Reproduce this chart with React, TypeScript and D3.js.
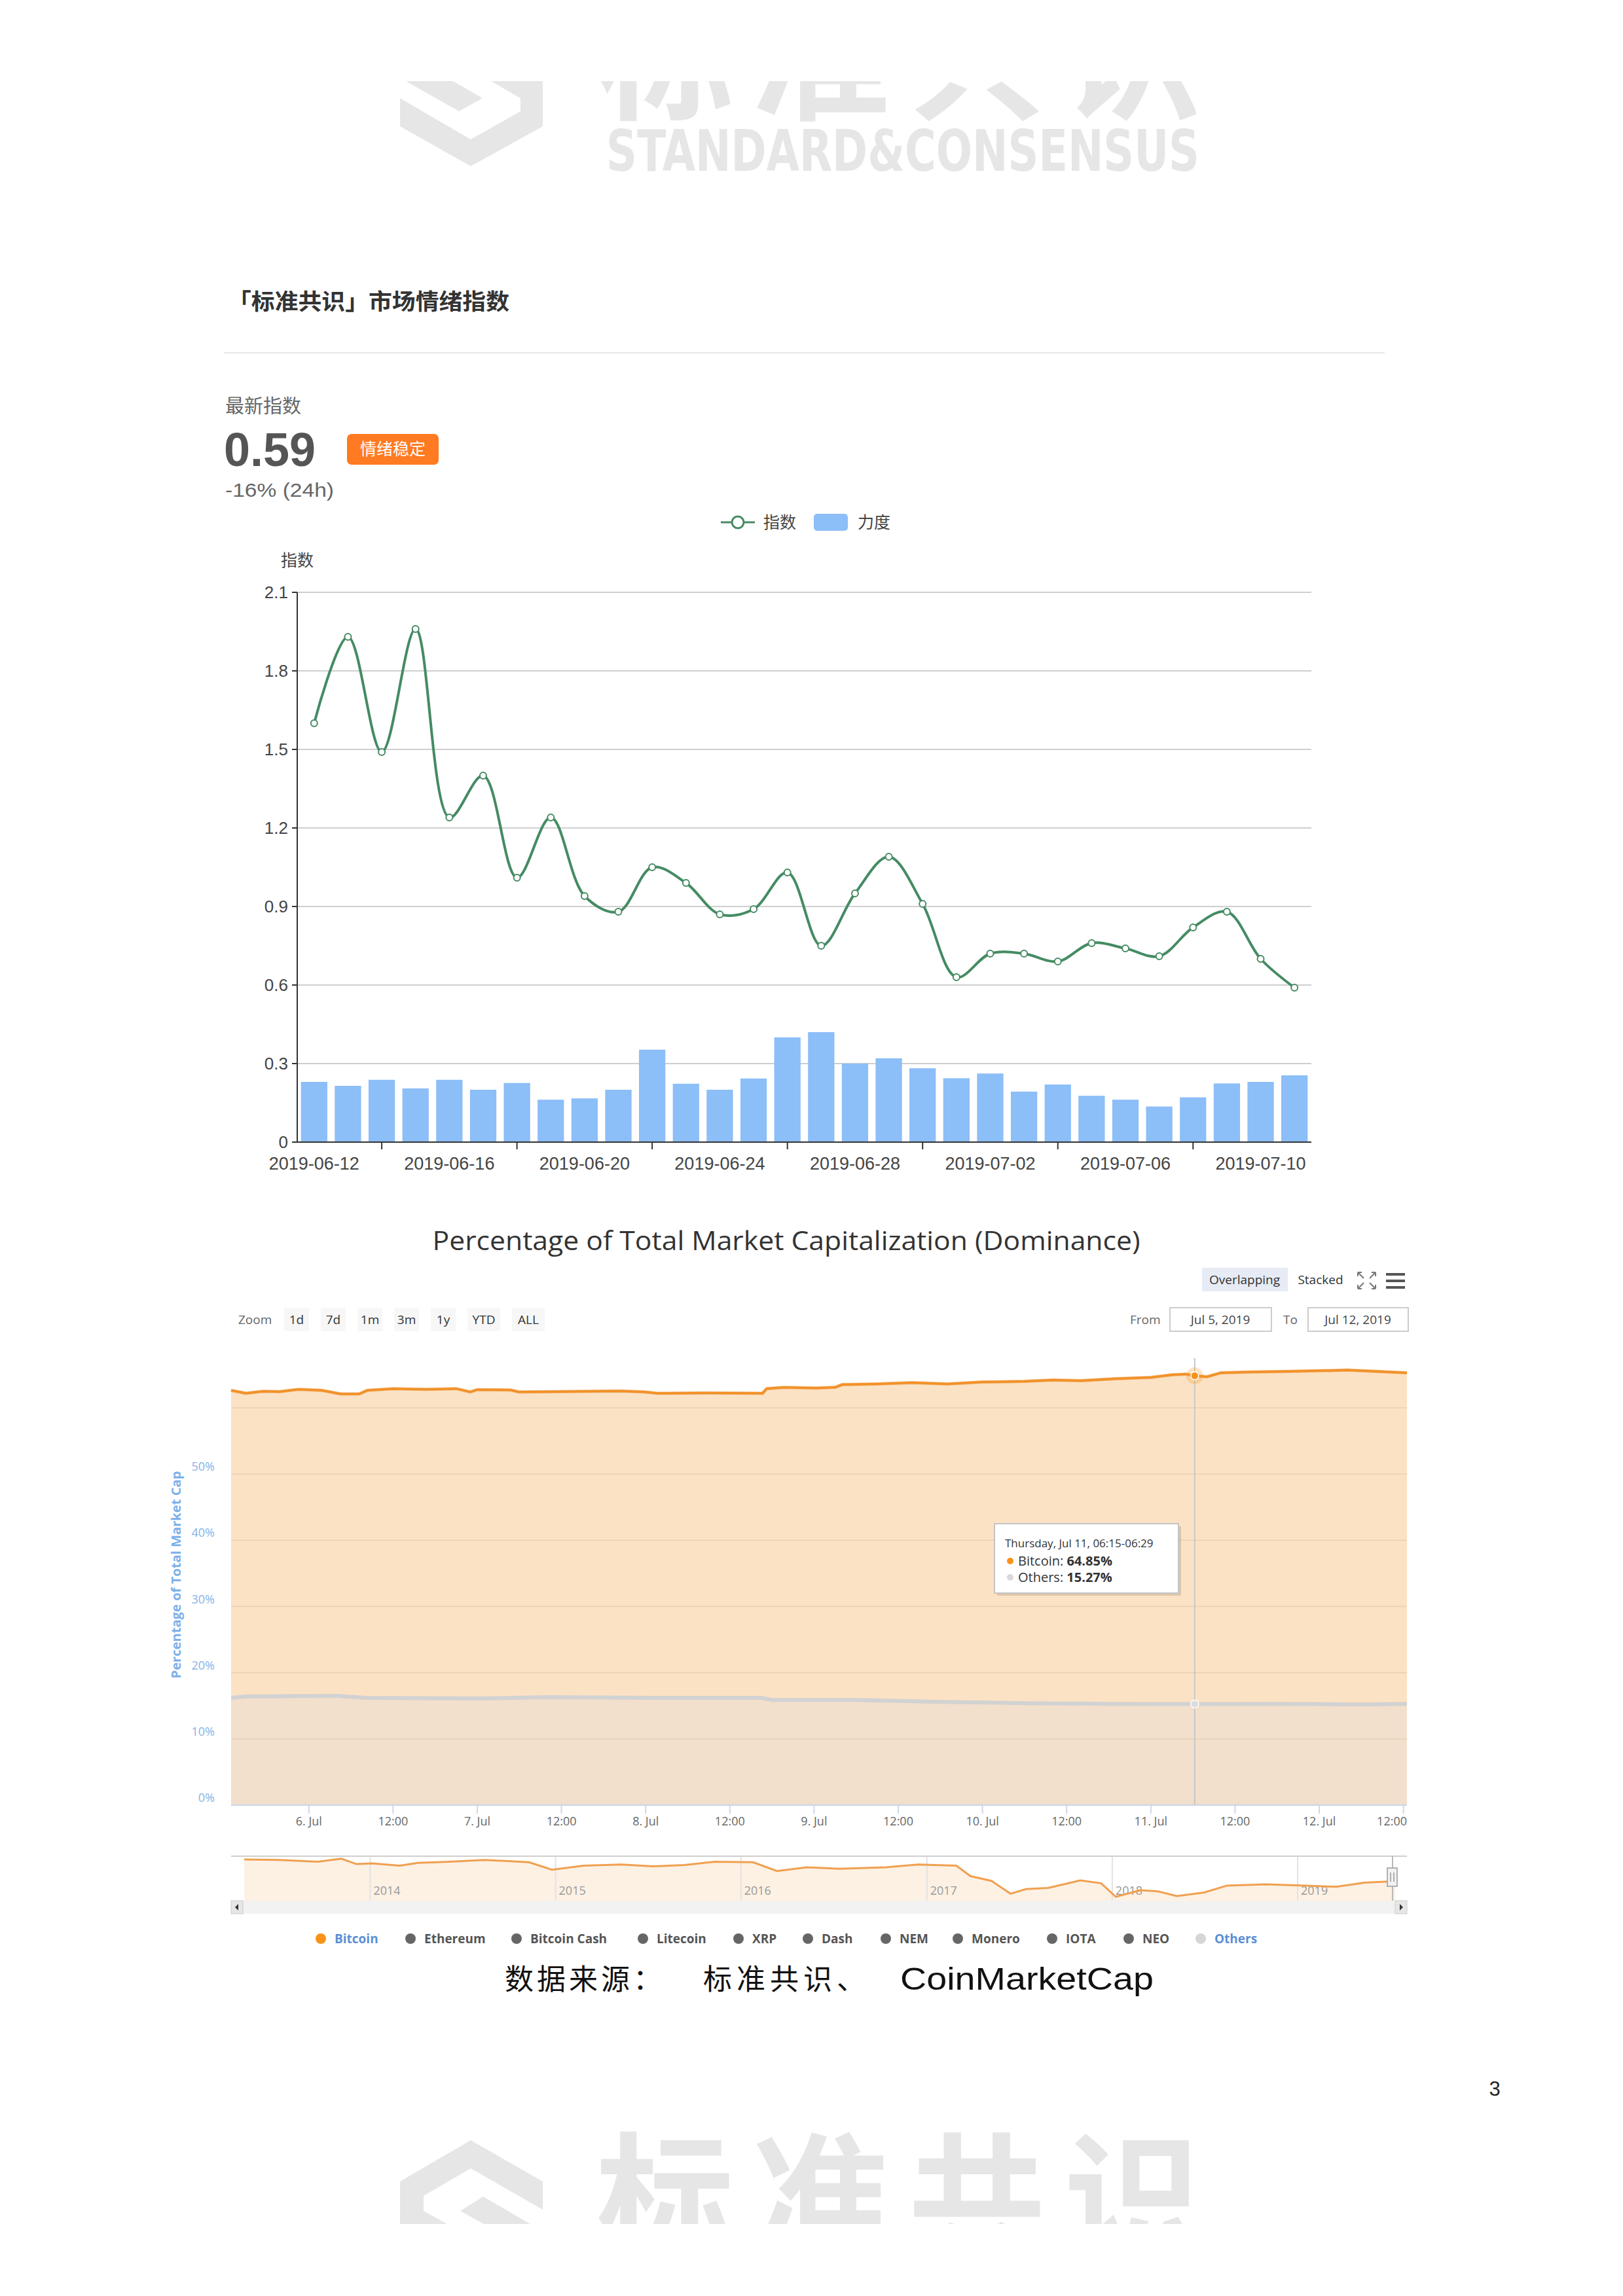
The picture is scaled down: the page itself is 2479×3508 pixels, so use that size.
import React from 'react';
import * as d3 from 'd3';

const W = 2479;
const H = 3508;

// ---------- sentiment index chart ----------
const dates = [
  '2019-06-12', '2019-06-13', '2019-06-14', '2019-06-15', '2019-06-16', '2019-06-17',
  '2019-06-18', '2019-06-19', '2019-06-20', '2019-06-21', '2019-06-22', '2019-06-23',
  '2019-06-24', '2019-06-25', '2019-06-26', '2019-06-27', '2019-06-28', '2019-06-29',
  '2019-06-30', '2019-07-01', '2019-07-02', '2019-07-03', '2019-07-04', '2019-07-05',
  '2019-07-06', '2019-07-07', '2019-07-08', '2019-07-09', '2019-07-10', '2019-07-11',
];
const indexValues = [
  1.6, 1.93, 1.49, 1.96, 1.24, 1.4, 1.01, 1.24, 0.94, 0.88, 1.05, 0.99, 0.87, 0.89, 1.03,
  0.75, 0.95, 1.09, 0.91, 0.63, 0.72, 0.72, 0.69, 0.76, 0.74, 0.71, 0.82, 0.88, 0.7, 0.59,
];
const strengthValues = [
  0.23, 0.215, 0.238, 0.205, 0.238, 0.2, 0.226, 0.162, 0.167, 0.2, 0.353, 0.223, 0.2, 0.243, 0.4,
  0.42, 0.3, 0.32, 0.282, 0.244, 0.262, 0.193, 0.22, 0.177, 0.162, 0.136, 0.171, 0.224, 0.23, 0.255,
];
const indexTicks = [0, 0.3, 0.6, 0.9, 1.2, 1.5, 1.8, 2.1];

// ---------- dominance chart ----------
const btcTimes = [
  '2019-07-05 12:55', '2019-07-05 15:00', '2019-07-05 17:25', '2019-07-05 19:50', '2019-07-05 22:30',
  '2019-07-06 01:50', '2019-07-06 04:30', '2019-07-06 07:10', '2019-07-06 08:20', '2019-07-06 12:00',
  '2019-07-06 16:45', '2019-07-06 21:00', '2019-07-06 23:00', '2019-07-07 00:00', '2019-07-07 04:45',
  '2019-07-07 05:55', '2019-07-07 11:20', '2019-07-07 20:20', '2019-07-07 23:55', '2019-07-08 01:40',
  '2019-07-08 08:20', '2019-07-08 16:40', '2019-07-08 17:15', '2019-07-08 19:40', '2019-07-09 00:20',
  '2019-07-09 03:00', '2019-07-09 04:00', '2019-07-09 09:00', '2019-07-09 14:00', '2019-07-09 19:00',
  '2019-07-10 00:00', '2019-07-10 06:00', '2019-07-10 10:00', '2019-07-10 14:00', '2019-07-10 19:00',
  '2019-07-11 00:00', '2019-07-11 03:00', '2019-07-11 05:00', '2019-07-11 06:15', '2019-07-11 08:00',
  '2019-07-11 10:00', '2019-07-11 14:00', '2019-07-11 20:00', '2019-07-12 00:00', '2019-07-12 04:00',
  '2019-07-12 08:00', '2019-07-12 12:30',
];
const btcValues = [
  62.65, 62.2, 62.5, 62.45, 62.8,
  62.65, 62.1, 62.1, 62.65, 62.9,
  62.8, 62.9, 62.4, 62.75, 62.7,
  62.4, 62.45, 62.55, 62.4, 62.2,
  62.25, 62.2, 62.9, 63.1, 63.0,
  63.1, 63.5, 63.6, 63.8, 63.6,
  63.9, 64.0, 64.2, 64.1, 64.4,
  64.6, 65.0, 65.1, 64.85, 64.7,
  65.3, 65.4, 65.5, 65.6, 65.7,
  65.5, 65.3,
];
const otherTimes = [
  '2019-07-05 12:55', '2019-07-05 15:00', '2019-07-06 04:00', '2019-07-06 08:00', '2019-07-07 00:00',
  '2019-07-07 10:00', '2019-07-08 00:00', '2019-07-08 16:30', '2019-07-08 18:00', '2019-07-09 06:00',
  '2019-07-09 18:00', '2019-07-10 06:00', '2019-07-10 18:00', '2019-07-11 06:15', '2019-07-11 18:00',
  '2019-07-12 06:00', '2019-07-12 12:30',
];
const otherValues = [
  16.2, 16.4, 16.5, 16.2, 16.1,
  16.3, 16.2, 16.2, 15.9, 15.9,
  15.6, 15.4, 15.3, 15.27, 15.3,
  15.2, 15.3,
];
const domTicks = [0, 10, 20, 30, 40, 50, 60];
const domLabels = ['0%', '10%', '20%', '30%', '40%', '50%'];

// navigator: bitcoin dominance history
const navDates = [
  '2013-04-28', '2013-07-05', '2013-09-20', '2013-11-05', '2013-12-05', '2014-01-05', '2014-02-28',
  '2014-04-05', '2014-06-05', '2014-08-15', '2014-11-10', '2014-12-25', '2015-02-25', '2015-05-10',
  '2015-07-12', '2015-09-12', '2015-11-10', '2016-01-25', '2016-03-12', '2016-05-10', '2016-07-12',
  '2016-10-12', '2016-12-15', '2017-02-28', '2017-03-28', '2017-05-08', '2017-06-15', '2017-07-15',
  '2017-08-28', '2017-10-30', '2017-12-10', '2018-01-08', '2018-02-25', '2018-04-01', '2018-05-08',
  '2018-07-01', '2018-08-15', '2018-10-30', '2019-01-15', '2019-03-18', '2019-05-12', '2019-06-28',
  '2019-07-12',
];
const navValues = [
  94.0, 93.2, 90.2, 95.1, 86.4, 87.5, 83.7,
  88.3, 90.2, 93.2, 89.4, 77.2, 83.7, 85.6,
  82.6, 84.9, 90.2, 89.4, 75.0, 81.0, 78.8,
  81.0, 85.6, 83.7, 66.6, 59.0, 38.0, 45.6,
  47.5, 59.7, 55.1, 33.0, 43.7, 41.8, 34.2,
  39.9, 51.3, 53.2, 51.3, 49.4, 55.9, 57.8,
  59.0,
];
const navYears = ['2014', '2015', '2016', '2017', '2018', '2019'];

const zoomButtons = ['1d', '7d', '1m', '3m', '1y', 'YTD', 'ALL'];
const legendNames = ['Bitcoin', 'Ethereum', 'Bitcoin Cash', 'Litecoin', 'XRP', 'Dash', 'NEM', 'Monero', 'IOTA', 'NEO', 'Others'];

// layout only
const legendDotX = [490, 627, 789, 982, 1128, 1234, 1353, 1463, 1607, 1724, 1834];

const CJK = '"Noto Sans CJK SC", sans-serif';
const LAT = '"Liberation Sans", "Noto Sans CJK SC", sans-serif';
const HC = '"Open Sans", "DejaVu Sans", sans-serif';

const GREEN = '#458b63';
const BLUE_BAR = '#8cbef8';

function SentimentChart() {
  const left = 454, right = 2003, top = 905, bottom = 1745;
  const x = d3.scaleBand<string>().domain(dates).range([left, right]).paddingInner(0.22).paddingOuter(0.11);
  const y = d3.scaleLinear().domain([0, 2.1]).range([bottom, top]);
  const cx = (d: string) => (x(d) as number) + x.bandwidth() / 2;
  const pts = dates.map((d, i) => [cx(d), y(indexValues[i])] as [number, number]);
  const line = d3.line().curve(d3.curveCatmullRom.alpha(0.5))(pts) as string;

  return (
    <g>
      {indexTicks.map((t) => (
        <g key={t}>
          {t > 0 && <line x1={left} x2={right} y1={y(t)} y2={y(t)} stroke="#cfcfcf" strokeWidth={2} />}
          <line x1={left - 8} x2={left} y1={y(t)} y2={y(t)} stroke="#333" strokeWidth={2} />
          <text x={left - 14} y={y(t) + 9} textAnchor="end" fontSize={26} fill="#444" fontFamily={LAT}>
            {t === 0 ? '0' : t.toFixed(1)}
          </text>
        </g>
      ))}
      {strengthValues.map((v, i) => (
        <rect key={i} x={x(dates[i])} y={y(v)} width={x.bandwidth()} height={bottom - y(v)} fill={BLUE_BAR} />
      ))}
      <line x1={left} x2={left} y1={top} y2={bottom} stroke="#333" strokeWidth={2} />
      <line x1={left} x2={right} y1={bottom} y2={bottom} stroke="#333" strokeWidth={2} />
      {dates.map((d, i) =>
        i % 4 === 2 ? <line key={d} x1={cx(d)} x2={cx(d)} y1={bottom} y2={bottom + 11} stroke="#333" strokeWidth={2} /> : null,
      )}
      {dates.map((d, i) =>
        i % 4 === 0 ? (
          <text key={d} x={cx(d)} y={bottom + 42} textAnchor="middle" fontSize={27} fill="#444" fontFamily={LAT}>
            {d}
          </text>
        ) : null,
      )}
      <path d={line} fill="none" stroke={GREEN} strokeWidth={4} />
      {pts.map((p, i) => (
        <circle key={i} cx={p[0]} cy={p[1]} r={5} fill="#fff" stroke={GREEN} strokeWidth={2} />
      ))}
      <text x={left} y={865} textAnchor="middle" fontSize={25} fill="#444" fontFamily={CJK}>指数</text>

      {/* legend */}
      <line x1={1101} x2={1153} y1={798} y2={798} stroke={GREEN} strokeWidth={3} />
      <circle cx={1127} cy={798} r={9} fill="#fff" stroke={GREEN} strokeWidth={3} />
      <text x={1166} y={807} fontSize={25} fill="#444" fontFamily={CJK}>指数</text>
      <rect x={1243} y={785} width={52} height={26} rx={5} fill={BLUE_BAR} />
      <text x={1310} y={807} fontSize={25} fill="#444" fontFamily={CJK}>力度</text>
    </g>
  );
}

function DominanceChart() {
  const parse = d3.timeParse('%Y-%m-%d %H:%M');
  const left = 353, right = 2149, plotTop = 2075, base = 2758;
  const x = d3.scaleTime()
    .domain([parse('2019-07-05 12:55') as Date, parse('2019-07-12 12:30') as Date])
    .range([left, right]);
  const y = d3.scaleLinear().domain([0, 60]).range([base, 2151]);

  const btc = btcTimes.map((t, i) => [x(parse(t) as Date), y(btcValues[i])] as [number, number]);
  const oth = otherTimes.map((t, i) => [x(parse(t) as Date), y(otherValues[i])] as [number, number]);
  const area = d3.area<[number, number]>().x((d) => d[0]).y0(base).y1((d) => d[1]);
  const ln = d3.line<[number, number]>();

  const ticks = d3.timeHour.every(12)!.range(parse('2019-07-06 00:00') as Date, parse('2019-07-12 12:01') as Date);
  const hoverT = parse('2019-07-11 06:15') as Date;
  const hx = x(hoverT);

  // navigator
  const pd = d3.timeParse('%Y-%m-%d');
  const nx = d3.scaleTime()
    .domain([pd('2013-04-28') as Date, pd('2019-07-12') as Date])
    .range([373, 2131]);
  const navTop = 2836, navBottom = 2904;
  const ny = d3.scaleLinear().domain([33, 95]).range([2898, 2840]);
  const nav = navDates.map((d, i) => [nx(pd(d) as Date), ny(navValues[i])] as [number, number]);
  const navArea = d3.area<[number, number]>().x((d) => d[0]).y0(navBottom).y1((d) => d[1]);

  let bx = 434;
  const btnPos = zoomButtons.map((b) => {
    const w = 14 + b.length * 12;
    const r = { b, x: bx, w };
    bx += w + 18;
    return r;
  });

  return (
    <g>
      <text x={1201} y={1910} textAnchor="middle" fontSize={40} fill="#333" fontFamily={HC} textLength={1081} lengthAdjust="spacingAndGlyphs">
        Percentage of Total Market Capitalization (Dominance)
      </text>

      {/* top-right buttons */}
      <rect x={1836} y={1937} width={131} height={36} fill="#e6ebf5" />
      <text x={1901} y={1962} textAnchor="middle" fontSize={19} fill="#333" fontFamily={HC}>Overlapping</text>
      <text x={2017} y={1962} textAnchor="middle" fontSize={19} fill="#333" fontFamily={HC}>Stacked</text>
      <g stroke="#777" strokeWidth={2} fill="none">
        <path d="M2074 1944 l9 9 M2074 1944 h6 M2074 1944 v6" />
        <path d="M2101 1944 l-9 9 M2101 1944 h-6 M2101 1944 v6" />
        <path d="M2074 1969 l9 -9 M2074 1969 h6 M2074 1969 v-6" />
        <path d="M2101 1969 l-9 -9 M2101 1969 h-6 M2101 1969 v-6" />
      </g>
      <g stroke="#555" strokeWidth={4}>
        <line x1={2117} x2={2146} y1={1947} y2={1947} />
        <line x1={2117} x2={2146} y1={1957} y2={1957} />
        <line x1={2117} x2={2146} y1={1967} y2={1967} />
      </g>

      {/* range selector */}
      <text x={364} y={2023} fontSize={19} fill="#666" fontFamily={HC}>Zoom</text>
      {btnPos.map((p) => (
        <g key={p.b}>
          <rect x={p.x} y={1998} width={p.w} height={36} fill="#f7f7f7" />
          <text x={p.x + p.w / 2} y={2023} textAnchor="middle" fontSize={19} fill="#333" fontFamily={HC}>{p.b}</text>
        </g>
      ))}
      <text x={1726} y={2023} fontSize={19} fill="#666" fontFamily={HC}>From</text>
      <rect x={1787} y={1998} width={155} height={36} fill="#fff" stroke="#ccc" strokeWidth={2} />
      <text x={1864} y={2023} textAnchor="middle" fontSize={19} fill="#444" fontFamily={HC}>Jul 5, 2019</text>
      <text x={1960} y={2023} fontSize={19} fill="#666" fontFamily={HC}>To</text>
      <rect x={1998} y={1998} width={153} height={36} fill="#fff" stroke="#ccc" strokeWidth={2} />
      <text x={2074} y={2023} textAnchor="middle" fontSize={19} fill="#444" fontFamily={HC}>Jul 12, 2019</text>

      {/* series areas */}
      <path d={area(btc) as string} fill="#fce2c4" />
      <path d={area(oth) as string} fill="#f2dfcc" />
      {domTicks.map((t) => (
        <line key={t} x1={left} x2={right} y1={y(t)} y2={y(t)} stroke="#e8cfb5" strokeWidth={1.5} />
      ))}
      <path d={ln(oth) as string} fill="none" stroke="#d2d2d2" strokeWidth={6} />
      <path d={ln(btc) as string} fill="none" stroke="#e8892a" strokeWidth={5} opacity={0.5} />
      <path d={ln(btc) as string} fill="none" stroke="#f29127" strokeWidth={3.5} />
      <line x1={left} x2={right} y1={base} y2={base} stroke="#ccd6eb" strokeWidth={2} />

      {/* crosshair + markers */}
      <line x1={hx} x2={hx} y1={plotTop} y2={base} stroke="#c8c8c8" strokeWidth={2} />
      <circle cx={hx} cy={y(64.85)} r={13} fill="rgba(247,147,26,0.25)" />
      <circle cx={hx} cy={y(64.85)} r={6} fill="#f7931a" stroke="#fff" strokeWidth={1.5} />
      <circle cx={hx} cy={y(15.27)} r={6} fill="#dcdcdc" stroke="#fff" strokeWidth={1.5} />

      {/* y labels + title */}
      {domLabels.map((l, i) => (
        <text key={l} x={328} y={y(domTicks[i]) - 5} textAnchor="end" fontSize={18} fill="#86b3e8" fontFamily={HC}>{l}</text>
      ))}
      <text transform="translate(276,2406) rotate(-90)" textAnchor="middle" fontSize={19} fontWeight="bold" fill="#7cb0ea" fontFamily={HC} textLength={317} lengthAdjust="spacingAndGlyphs">
        Percentage of Total Market Cap
      </text>

      {/* x axis */}
      {ticks.map((t, i) => {
        const tx = x(t);
        const last = i === ticks.length - 1;
        const label = t.getHours() === 0 ? `${t.getDate()}. Jul` : '12:00';
        return (
          <g key={i}>
            <line x1={tx} x2={tx} y1={base} y2={base + 13} stroke="#ccd6eb" strokeWidth={2} />
            <text x={last ? right : tx} y={2789} textAnchor={last ? 'end' : 'middle'} fontSize={18} fill="#666" fontFamily={HC}>{label}</text>
          </g>
        );
      })}

      {/* tooltip */}
      <rect x={1523} y={2332} width={281} height={106} fill="rgba(0,0,0,0.12)" />
      <rect x={1519} y={2328} width={281} height={106} fill="#fff" stroke="#c4c4c4" strokeWidth={2} />
      <text x={1535} y={2364} fontSize={17} fill="#333" fontFamily={HC}>Thursday, Jul 11, 06:15-06:29</text>
      <circle cx={1543} cy={2385} r={5} fill="#f7931a" />
      <text x={1555} y={2392} fontSize={20} fill="#333" fontFamily={HC}>
        Bitcoin: <tspan fontWeight="bold">64.85%</tspan>
      </text>
      <circle cx={1543} cy={2410} r={5} fill="#d8d8d8" />
      <text x={1555} y={2417} fontSize={20} fill="#333" fontFamily={HC}>
        Others: <tspan fontWeight="bold">15.27%</tspan>
      </text>

      {/* navigator */}
      <path d={navArea(nav) as string} fill="#fdf1e4" />
      {navYears.map((yr) => {
        const gx = nx(pd(`${yr}-01-01`) as Date);
        return (
          <g key={yr}>
            <line x1={gx} x2={gx} y1={navTop} y2={navBottom} stroke="#e3e3e3" strokeWidth={2} />
            <text x={gx + 5} y={2895} fontSize={18} fill="#999" fontFamily={HC}>{yr}</text>
          </g>
        );
      })}
      <path d={ln(nav) as string} fill="none" stroke="#f0a050" strokeWidth={3} />
      <line x1={left} x2={right} y1={navTop} y2={navTop} stroke="#cfcfcf" strokeWidth={2} />
      <line x1={2127} x2={2127} y1={navTop} y2={navBottom} stroke="#b8b8b8" strokeWidth={2} />
      <rect x={2119} y={2854} width={15} height={28} fill="#f2f2f2" stroke="#999" strokeWidth={1.5} />
      <line x1={2124} x2={2124} y1={2861} y2={2875} stroke="#999" strokeWidth={1.5} />
      <line x1={2129} x2={2129} y1={2861} y2={2875} stroke="#999" strokeWidth={1.5} />
      {/* scrollbar */}
      <rect x={left} y={2904} width={right - left} height={20} fill="#f2f2f2" />
      <rect x={left} y={2904} width={18} height={20} fill="#e6e6e6" stroke="#ccc" />
      <rect x={right - 18} y={2904} width={18} height={20} fill="#e6e6e6" stroke="#ccc" />
      <path d={`M${left + 11} 2909 l-5 5 l5 5 z`} fill="#333" />
      <path d={`M${right - 11} 2909 l5 5 l-5 5 z`} fill="#333" />

      {/* legend */}
      {legendNames.map((n, i) => {
        const active = n === 'Bitcoin' || n === 'Others';
        const dot = n === 'Bitcoin' ? '#f7931a' : n === 'Others' ? '#d6d6d6' : '#666';
        return (
          <g key={n}>
            <circle cx={legendDotX[i]} cy={2962} r={8} fill={dot} />
            <text x={legendDotX[i] + 21} y={2969} fontSize={19} fontWeight="bold" fill={active ? '#5b8fd6' : '#555'} fontFamily={HC}>{n}</text>
          </g>
        );
      })}
    </g>
  );
}

function Watermarks() {
  return (
    <g fill="#e6e6e6">
      <defs>
        <clipPath id="clipTop"><rect x={0} y={124} width={W} height={200} /></clipPath>
        <clipPath id="clipBottom"><rect x={0} y={3200} width={W} height={198} /></clipPath>
      </defs>
      <g clipPath="url(#clipTop)">
        <polygon points="620,124 692,124 737,150 701,170" />
        <polygon points="611,150 719,213 795,170 795,150 750,124 829,124 829,193 719,254 611,193" />
        <text x={911} y={166} fontSize={210} fontWeight="bold" letterSpacing={28} fontFamily={CJK}>标准共识</text>
        <text x={926} y={261} fontSize={88} fontWeight="bold" fontFamily='"DejaVu Sans Condensed", "DejaVu Sans", sans-serif' textLength={906} lengthAdjust="spacingAndGlyphs">
          STANDARD&amp;CONSENSUS
        </text>
      </g>
      <g clipPath="url(#clipBottom)">
        <polygon points="611,3333 719,3270 829,3333 829,3376 719,3313 647,3355 647,3378 683,3398 611,3398" />
        <polygon points="703,3378 738,3356 810,3398 739,3398" />
        <text x={911} y={3436} fontSize={210} fontWeight="bold" letterSpacing={28} fontFamily={CJK}>标准共识</text>
      </g>
    </g>
  );
}

export default function App() {
  return (
    <svg width={W} height={H} viewBox={`0 0 ${W} ${H}`} style={{ position: 'absolute', left: 0, top: 0, background: '#fff' }}>
      <rect width={W} height={H} fill="#fff" />
      <Watermarks />

      {/* header */}
      <text x={348} y={473} fontSize={34} fontWeight="bold" fill="#333" fontFamily={CJK} textLength={430} lengthAdjust="spacingAndGlyphs">「标准共识」市场情绪指数</text>
      <line x1={342} x2={2115} y1={539} y2={539} stroke="#e8e8e8" strokeWidth={2} />
      <text x={344} y={631} fontSize={29} fill="#666" fontFamily={CJK}>最新指数</text>
      <text x={342} y={712} fontSize={72} fontWeight="bold" fill="#555" fontFamily={LAT}>0.59</text>
      <rect x={530} y={663} width={140} height={47} rx={7} fill="#ff7a21" />
      <text x={600} y={695} textAnchor="middle" fontSize={25} fill="#fff" fontFamily={CJK}>情绪稳定</text>
      <text x={344} y={759} fontSize={30} fill="#666" fontFamily={LAT} textLength={166} lengthAdjust="spacingAndGlyphs">-16% (24h)</text>

      <SentimentChart />
      <DominanceChart />

      {/* source */}
      <text x={771} y={3040} fontSize={44} fill="#111" fontFamily={CJK} textLength={240} lengthAdjust="spacing">数据来源：</text>
      <text x={1074} y={3040} fontSize={44} fill="#111" fontFamily={CJK} textLength={248} lengthAdjust="spacing">标准共识、</text>
      <text x={1375} y={3040} fontSize={48} fill="#111" fontFamily={LAT} textLength={387} lengthAdjust="spacingAndGlyphs">CoinMarketCap</text>

      <text x={2283} y={3202} textAnchor="middle" fontSize={31} fill="#222" fontFamily={LAT}>3</text>
    </svg>
  );
}
